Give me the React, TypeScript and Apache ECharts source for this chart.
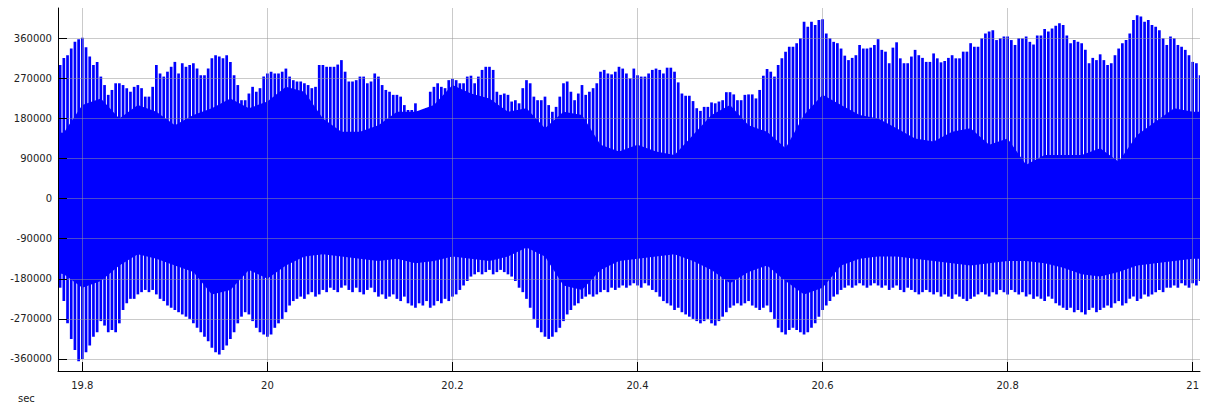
import React, { useEffect, useRef } from "react";
import * as echarts from "echarts";

// Axis ranges (seconds, amplitude)
const X_MIN = 19.7737;
const X_MAX = 21.0079;
const Y_MIN = -387000;
const Y_MAX = 428000;
const xTickValues = [19.8, 20, 20.2, 20.4, 20.6, 20.8, 21];
const yTickValues = [-360000, -270000, -180000, -90000, 0, 90000, 180000, 270000, 360000];

// Peak (spike) columns: start time and spacing in seconds
const peakStart = 19.776;
const peakStep = 0.004;
// Upper peak envelope per column, in thousands
const upperPeaksK = [
  300, 316, 322, 337, 352, 358, 361, 340, 319, 300, 307, 274, 255, 233, 244, 259, 259, 255, 248, 240,
  251, 255, 248, 229, 229, 251, 300, 281, 274, 285, 296, 307, 281, 304, 296, 300, 304, 292, 277, 277,
  292, 315, 322, 319, 315, 322, 307, 277, 255, 221, 221,
  236, 251, 240, 248, 274, 281, 285, 281, 281, 285, 292, 274, 266, 263, 263, 259, 255, 248, 251, 300,
  300, 296, 296, 296, 301, 311, 285, 263, 263, 266, 274, 274, 259, 263, 281, 274, 255, 244, 240, 233,
  233, 229, 210, 199, 199, 214, 195, 199, 203, 240, 251, 259,
  251, 248, 266, 269, 266, 259, 259, 274, 276, 259, 274, 289, 296, 296, 289, 240, 233, 236, 233, 218,
  221, 214, 248, 266, 259, 229, 221, 221, 229, 210, 195, 206, 229, 259, 263, 240, 221, 236, 255, 233,
  240, 248, 259, 285, 289, 281, 279, 285, 296, 292, 281, 270,
  292, 277, 274, 274, 281, 289, 292, 289, 281, 294, 294, 285, 261, 236, 231, 231, 219, 203, 197, 206,
  206, 216, 214, 218, 221, 239, 239, 234, 221, 221, 233, 234, 234, 225, 244, 276, 291, 285, 274, 300,
  315, 330, 341, 341, 349, 360, 397, 386, 397, 390, 401,
  403, 371, 360, 352, 349, 337, 321, 311, 316, 322, 345, 337, 337, 339, 345, 358, 334, 330, 304, 339,
  351, 315, 304, 304, 319, 334, 322, 316, 307, 307, 326, 315, 306, 309, 316, 322, 315, 315, 330, 330,
  349, 341, 341, 360, 371, 375, 378, 356, 360, 364, 364,
  356, 345, 360, 360, 364, 352, 346, 366, 366, 381, 375, 382, 388, 394, 390, 366, 349, 356, 352, 349,
  334, 304, 316, 311, 324, 311, 300, 304, 322, 337, 349, 356, 371, 401, 412, 409, 397, 401, 390, 386,
  378, 360, 345, 364, 360, 345, 341, 334, 322, 307, 304, 277,
];
// Lower peak envelope per column, in thousands
const lowerPeaksK = [
  -200, -230, -280, -315, -340, -365, -360, -345, -330, -310, -300, -275, -285, -300, -295,
  -300, -280, -250, -235, -225, -225, -215, -210, -205, -210, -205, -215, -225, -230, -240,
  -245, -250, -255, -260, -265, -270, -280, -290, -300, -310, -320, -335, -345, -350, -340,
  -330, -315, -300, -280, -265, -255, -260, -275, -290, -300, -305, -310, -305, -290, -280,
  -270, -255, -240, -230, -225, -220, -225, -215, -210, -220, -215, -205, -210, -200, -205,
  -210, -200, -195, -205, -210, -200, -210, -215, -205, -200, -210, -220, -215, -225, -220,
  -215, -225, -230, -220, -235, -240, -245, -235, -240, -230, -245, -240, -230, -235, -225,
  -230, -220, -215, -205, -195, -185, -175, -170, -165, -170, -165, -160, -170, -165, -160,
  -165, -170, -175, -185, -200, -210, -225, -245, -270, -290, -300, -310, -315, -310, -300,
  -290, -275, -260, -250, -240, -235, -225, -220, -215, -220, -215, -210, -205, -210, -200,
  -205, -200, -195, -200, -195, -190, -195, -200, -190, -195, -205, -210, -220, -230, -235,
  -240, -250, -245, -255, -260, -265, -270, -275, -280, -275, -270, -280, -285, -275, -265,
  -255, -245, -240, -235, -240, -235, -230, -240, -245, -250, -245, -240, -255, -270, -290,
  -300, -305, -295, -290, -295, -300, -305, -300, -290, -280, -265, -250, -240, -230, -220,
  -215, -205, -200, -195, -200, -195, -190, -195, -200, -195, -190, -195, -200, -195, -205,
  -200, -195, -205, -210, -200, -205, -210, -215, -210, -205, -210, -215, -210, -220, -215,
  -220, -225, -215, -220, -225, -230, -225, -220, -215, -210, -215, -220, -210, -215, -205,
  -210, -215, -205, -210, -215, -210, -220, -215, -225, -220, -225, -230, -220, -225, -235,
  -240, -245, -250, -245, -255, -250, -255, -260, -250, -245, -255, -250, -245, -240, -245,
  -235, -230, -240, -235, -225, -220, -230, -225, -215, -220, -215, -210, -205, -210, -200,
  -200, -195, -200, -190, -195, -200, -190, -195, -185,
];

// Dense core band, sampled every 20 ms, in thousands
const coreStart = 19.76;
const coreStep = 0.02;
const upperCoreK = [
  150, 148, 210, 225, 180, 210, 195, 165, 188, 203, 225, 203, 218, 251, 240, 180, 150, 150, 165, 195,
  195, 210, 255, 236, 225, 195, 203, 158, 195, 188, 121, 106, 121, 106, 98, 143, 188, 210, 165, 150,
  113, 188, 233, 210, 188, 180, 158, 135, 128, 150, 158, 121, 135, 76, 98, 98, 98, 113, 83, 143,
  173, 203, 195, 195,
];
const lowerCoreK = [
  -160, -170, -200, -185, -150, -125, -135, -150, -165, -215, -205, -160, -180, -150, -130, -125, -130, -135, -140, -135,
  -145, -140, -130, -135, -140, -130, -110, -130, -195, -205, -160, -140, -135, -130, -125, -140, -160, -190, -165, -150,
  -185, -215, -200, -150, -135, -130, -130, -135, -140, -145, -150, -145, -140, -140, -145, -155, -170, -175, -165, -150,
  -145, -140, -135, -135,
];

const FONT = "DejaVu Sans";
const BLUE = "#0000ff";

export default function App() {
  const ref = useRef<HTMLDivElement>(null);

  useEffect(() => {
    document.body.style.margin = "0";
    if (!ref.current) return;
    const chart = echarts.init(ref.current, undefined, { renderer: "svg" });

    const peakData = upperPeaksK.map((u, i) => [
      peakStart + i * peakStep,
      u * 1000,
      lowerPeaksK[i] * 1000,
    ]);
    const coreData = upperCoreK.map((u, i) => [
      coreStart + i * coreStep,
      u * 1000,
      lowerCoreK[i] * 1000,
    ]);

    chart.setOption({
      animation: false,
      grid: { left: 58, right: 5, top: 8, bottom: 36, containLabel: false },
      xAxis: {
        type: "value",
        min: X_MIN,
        max: X_MAX,
        z: 5,
        axisLine: { show: true, onZero: false, lineStyle: { color: "#000", width: 1 } },
        axisTick: {
          show: true,
          inside: true,
          length: 9,
          customValues: xTickValues,
          lineStyle: { color: "#000" },
        },
        axisLabel: {
          customValues: xTickValues,
          formatter: (v: number) => String(Math.round(v * 10) / 10),
          margin: 9,
          color: "#222",
          fontFamily: FONT,
          fontSize: 10,
        },
        splitLine: { show: true, lineStyle: { color: "rgba(150,150,150,0.5)", width: 1 } },
      },
      yAxis: {
        type: "value",
        min: Y_MIN,
        max: Y_MAX,
        z: 5,
        axisLine: { show: true, onZero: false, lineStyle: { color: "#000", width: 1 } },
        axisTick: {
          show: true,
          inside: true,
          length: 9,
          customValues: yTickValues,
          lineStyle: { color: "#000" },
        },
        axisLabel: {
          customValues: yTickValues,
          formatter: (v: number) => String(Math.round(v)),
          margin: 6,
          color: "#222",
          fontFamily: FONT,
          fontSize: 10,
        },
        splitLine: { show: true, lineStyle: { color: "rgba(150,150,150,0.5)", width: 1 } },
      },
      graphic: [
        {
          type: "text",
          left: 18,
          top: 393,
          style: { text: "sec", fill: "#222", font: `10px "${FONT}"` },
        },
      ],
      series: [
        {
          type: "custom",
          name: "core",
          clip: true,
          data: coreData,
          encode: { x: 0, y: [1, 2] },
          renderItem: (params: any, api: any) => {
            if (params.dataIndex !== 0) return null;
            const pts: number[][] = [];
            for (let i = 0; i < coreData.length; i++) {
              pts.push(api.coord([coreData[i][0], coreData[i][1]]));
            }
            for (let i = coreData.length - 1; i >= 0; i--) {
              pts.push(api.coord([coreData[i][0], coreData[i][2]]));
            }
            return { type: "polygon", shape: { points: pts }, style: { fill: BLUE } };
          },
        },
        {
          type: "custom",
          name: "peaks",
          clip: true,
          data: peakData,
          encode: { x: 0, y: [1, 2] },
          renderItem: (params: any, api: any) => {
            const t = api.value(0);
            const p1 = api.coord([t, api.value(1)]);
            const p2 = api.coord([t, api.value(2)]);
            const w = 2.7;
            return {
              type: "rect",
              shape: { x: p1[0] - w / 2, y: p1[1], width: w, height: p2[1] - p1[1] },
              style: { fill: BLUE },
            };
          },
        },
      ],
    });

    return () => chart.dispose();
  }, []);

  return <div ref={ref} style={{ width: 1205, height: 407 }} />;
}
